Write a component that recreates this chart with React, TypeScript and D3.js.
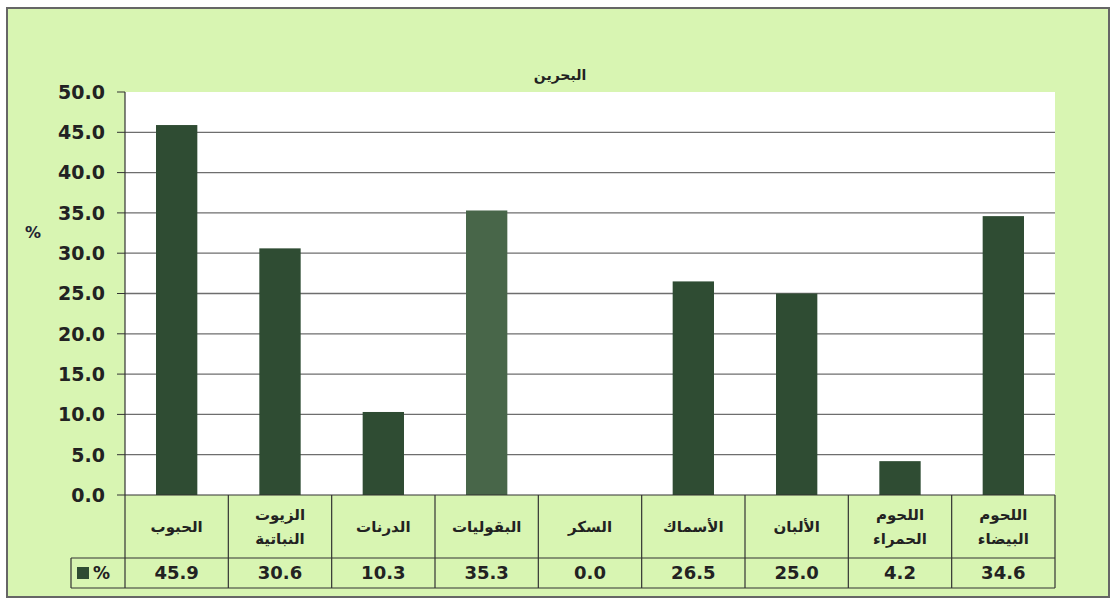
import React from "react";
import * as d3 from "d3";

const categories: string[][] = [
  ["الحبوب"],
  ["الزيوت", "النباتية"],
  ["الدرنات"],
  ["البقوليات"],
  ["السكر"],
  ["الأسماك"],
  ["الألبان"],
  ["اللحوم", "الحمراء"],
  ["اللحوم", "البيضاء"],
];
const values: number[] = [45.9, 30.6, 10.3, 35.3, 0.0, 26.5, 25.0, 4.2, 34.6];
const yTicks: number[] = [0, 5, 10, 15, 20, 25, 30, 35, 40, 45, 50];
const title = "البحرين";
const seriesName = "%";

const W = 1113;
const H = 603;
const plotL = 125;
const plotR = 1055;
const plotT = 92;
const plotB = 495;
const rowSplit = 558;
const tableB = 588;
const legendL = 71;

const frameFill = "#d8f5b2";
const barFill = "#2f4c33";
const barFillAlt = "#486649";
const lineCol = "#333";
const font = "Arial, 'Liberation Sans', 'DejaVu Sans', sans-serif";
const numFont = "'DejaVu Sans', Arial, sans-serif";

export default function App() {
  const x = d3
    .scaleBand<number>()
    .domain(d3.range(values.length))
    .range([plotL, plotR])
    .paddingInner(0)
    .paddingOuter(0);
  const y = d3.scaleLinear().domain([0, 50]).range([plotB, plotT]);
  const bw = x.bandwidth();
  const barW = bw * 0.4;

  return (
    <svg
      width={W}
      height={H}
      style={{ position: "absolute", left: 0, top: 0, background: "#fff" }}
      fontFamily={font}
    >
      <rect x={7} y={8} width={1102} height={589} fill={frameFill} stroke="#666" strokeWidth={2} />
      <rect x={plotL} y={plotT} width={plotR - plotL} height={plotB - plotT} fill="#fff" />
      {yTicks.map((t) => (
        <g key={t}>
          {t > 0 && t < 50 && (
            <line x1={plotL} x2={plotR} y1={y(t)} y2={y(t)} stroke="#6e6e6e" strokeWidth={1.3} />
          )}
          <line x1={plotL - 8} x2={plotL} y1={y(t)} y2={y(t)} stroke={lineCol} strokeWidth={1} />
          <text
            x={105}
            y={y(t)}
            dy="0.36em"
            textAnchor="end"
            fontSize={19}
            fontWeight="bold"
            fontFamily={numFont}
            fill="#222"
          >
            {t.toFixed(1)}
          </text>
        </g>
      ))}
      <text x={33} y={238} textAnchor="middle" fontSize={16} fontWeight="bold" fontFamily={numFont} fill="#223">
        %
      </text>
      <text x={560} y={80} textAnchor="middle" fontSize={14} fontWeight="bold" fill="#222">
        {title}
      </text>
      {values.map((v, i) => (
        <rect
          key={i}
          x={(x(i) as number) + (bw - barW) / 2}
          y={y(v)}
          width={barW}
          height={plotB - y(v)}
          fill={i === 3 ? barFillAlt : barFill}
        />
      ))}
      {/* axes */}
      <line x1={plotL} x2={plotL} y1={plotT} y2={tableB} stroke={lineCol} strokeWidth={1.2} />
      <line x1={plotL} x2={plotR} y1={plotB} y2={plotB} stroke={lineCol} strokeWidth={1.2} />
      {/* table */}
      <line x1={legendL} x2={plotR} y1={rowSplit} y2={rowSplit} stroke={lineCol} strokeWidth={1.2} />
      <line x1={legendL} x2={plotR} y1={tableB} y2={tableB} stroke={lineCol} strokeWidth={1.2} />
      <line x1={legendL} x2={legendL} y1={rowSplit} y2={tableB} stroke={lineCol} strokeWidth={1.2} />
      {values.map((_, i) => (
        <line
          key={i}
          x1={(x(i) as number) + bw}
          x2={(x(i) as number) + bw}
          y1={plotB}
          y2={tableB}
          stroke={lineCol}
          strokeWidth={1.2}
        />
      ))}
      {categories.map((lines, i) => {
        const cx = (x(i) as number) + bw / 2;
        const mid = (plotB + rowSplit) / 2;
        const startY = mid - ((lines.length - 1) * 24) / 2;
        return (
          <g key={i}>
            {lines.map((l, j) => (
              <text
                key={j}
                x={cx}
                y={startY + j * 24}
                dy="0.35em"
                textAnchor="middle"
                fontSize={15}
                fontWeight="bold"
                fill="#222"
              >
                {l}
              </text>
            ))}
          </g>
        );
      })}
      {values.map((v, i) => (
        <text
          key={i}
          x={(x(i) as number) + bw / 2}
          y={(rowSplit + tableB) / 2}
          dy="0.36em"
          textAnchor="middle"
          fontSize={18}
          fontWeight="bold"
          fontFamily={numFont}
          fill="#222"
        >
          {v.toFixed(1)}
        </text>
      ))}
      <rect x={77} y={567} width={12} height={12} fill={barFill} />
      <text x={93} y={(rowSplit + tableB) / 2} dy="0.36em" fontSize={17} fontWeight="bold" fontFamily={numFont} fill="#222">
        {seriesName}
      </text>
    </svg>
  );
}
